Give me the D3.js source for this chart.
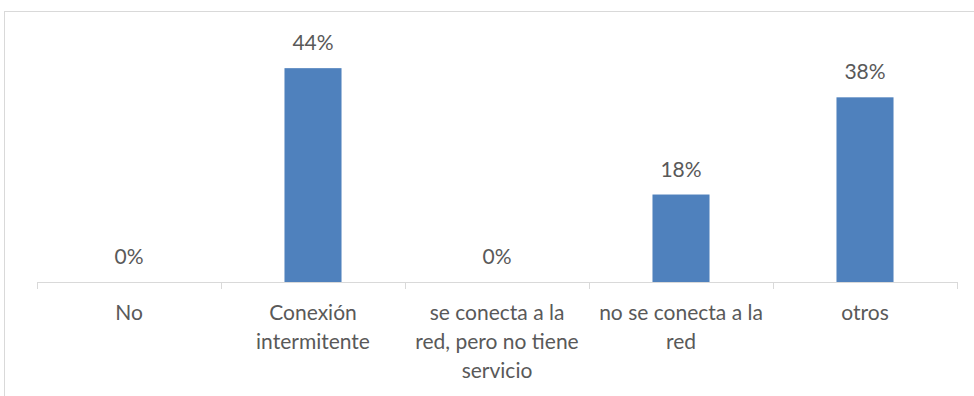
<!DOCTYPE html>
<html>
<head>
<meta charset="utf-8">
<script src="https://cdn.jsdelivr.net/npm/d3@7"></script>
<style>
  html, body { margin: 0; padding: 0; background: #fff; }
  svg { display: block; }
  text { font-family: Lato, "Open Sans", "Liberation Sans", sans-serif; fill: #595959; }
</style>
</head>
<body>
<svg id="chart" width="974" height="396"></svg>
<script>
// Categories along the x axis and the share reported for each one
const categories = [
  "No",
  "Conexión intermitente",
  "se conecta a la red, pero no tiene servicio",
  "no se conecta a la red",
  "otros"
];
const values = [0, 0.44, 0, 0.18, 0.38];

const W = 974, H = 396;
const margin = { left: 37, right: 17, top: 39, bottom: 114 };
const fontSize = 21;

const svg = d3.select("#chart");

// Outer chart frame
svg.append("rect")
  .attr("x", 4.5).attr("y", 11.5)
  .attr("width", W + 10).attr("height", H + 10)
  .attr("fill", "none").attr("stroke", "#d9d9d9").attr("stroke-width", 1);

const x = d3.scaleBand()
  .domain(categories)
  .range([margin.left, W - margin.right])
  .paddingInner(0.69).paddingOuter(0.345);

const y = d3.scaleLinear()
  .domain([0, 0.5])
  .range([H - margin.bottom, margin.top]);

const band = (W - margin.right - margin.left) / categories.length;

// Bars
svg.append("g").selectAll("rect")
  .data(categories)
  .join("rect")
  .attr("x", d => x(d))
  .attr("width", x.bandwidth())
  .attr("y", (d, i) => y(values[i]))
  .attr("height", (d, i) => y(0) - y(values[i]))
  .attr("fill", "#4f81bd");

// Value labels above the bars
const fmt = d3.format(".0%");
svg.append("g").selectAll("text")
  .data(categories)
  .join("text")
  .attr("x", d => x(d) + x.bandwidth() / 2)
  .attr("y", (d, i) => y(values[i]) - 18)
  .attr("text-anchor", "middle")
  .attr("font-size", fontSize)
  .text((d, i) => fmt(values[i]));

// Category axis: baseline with tick marks at the band edges
const axisY = y(0);
const axis = svg.append("g");
axis.append("line")
  .attr("x1", margin.left).attr("x2", W - margin.right)
  .attr("y1", axisY + 0.5).attr("y2", axisY + 0.5)
  .attr("stroke", "#d9d9d9").attr("stroke-width", 1);
d3.range(categories.length + 1).forEach(k => {
  const tx = Math.round(margin.left + k * band) + 0.5;
  axis.append("line")
    .attr("x1", tx).attr("x2", tx)
    .attr("y1", axisY).attr("y2", axisY + 7)
    .attr("stroke", "#d9d9d9").attr("stroke-width", 1);
});

// Wrapped category labels
const maxW = 170;
const lineH = 29;
categories.forEach(cat => {
  const cx = x(cat) + x.bandwidth() / 2;
  const t = svg.append("text")
    .attr("text-anchor", "middle")
    .attr("font-size", fontSize);
  const words = cat.split(" ");
  const lines = [];
  let cur = [];
  const probe = svg.append("text").attr("font-size", fontSize);
  words.forEach(w => {
    const trial = cur.concat([w]).join(" ");
    probe.text(trial);
    if (cur.length && probe.node().getComputedTextLength() > maxW) {
      lines.push(cur.join(" "));
      cur = [w];
    } else {
      cur.push(w);
    }
  });
  lines.push(cur.join(" "));
  probe.remove();
  lines.forEach((ln, i) => {
    t.append("tspan")
      .attr("x", cx)
      .attr("y", axisY + 38 + i * lineH)
      .text(ln);
  });
});
</script>
</body>
</html>
